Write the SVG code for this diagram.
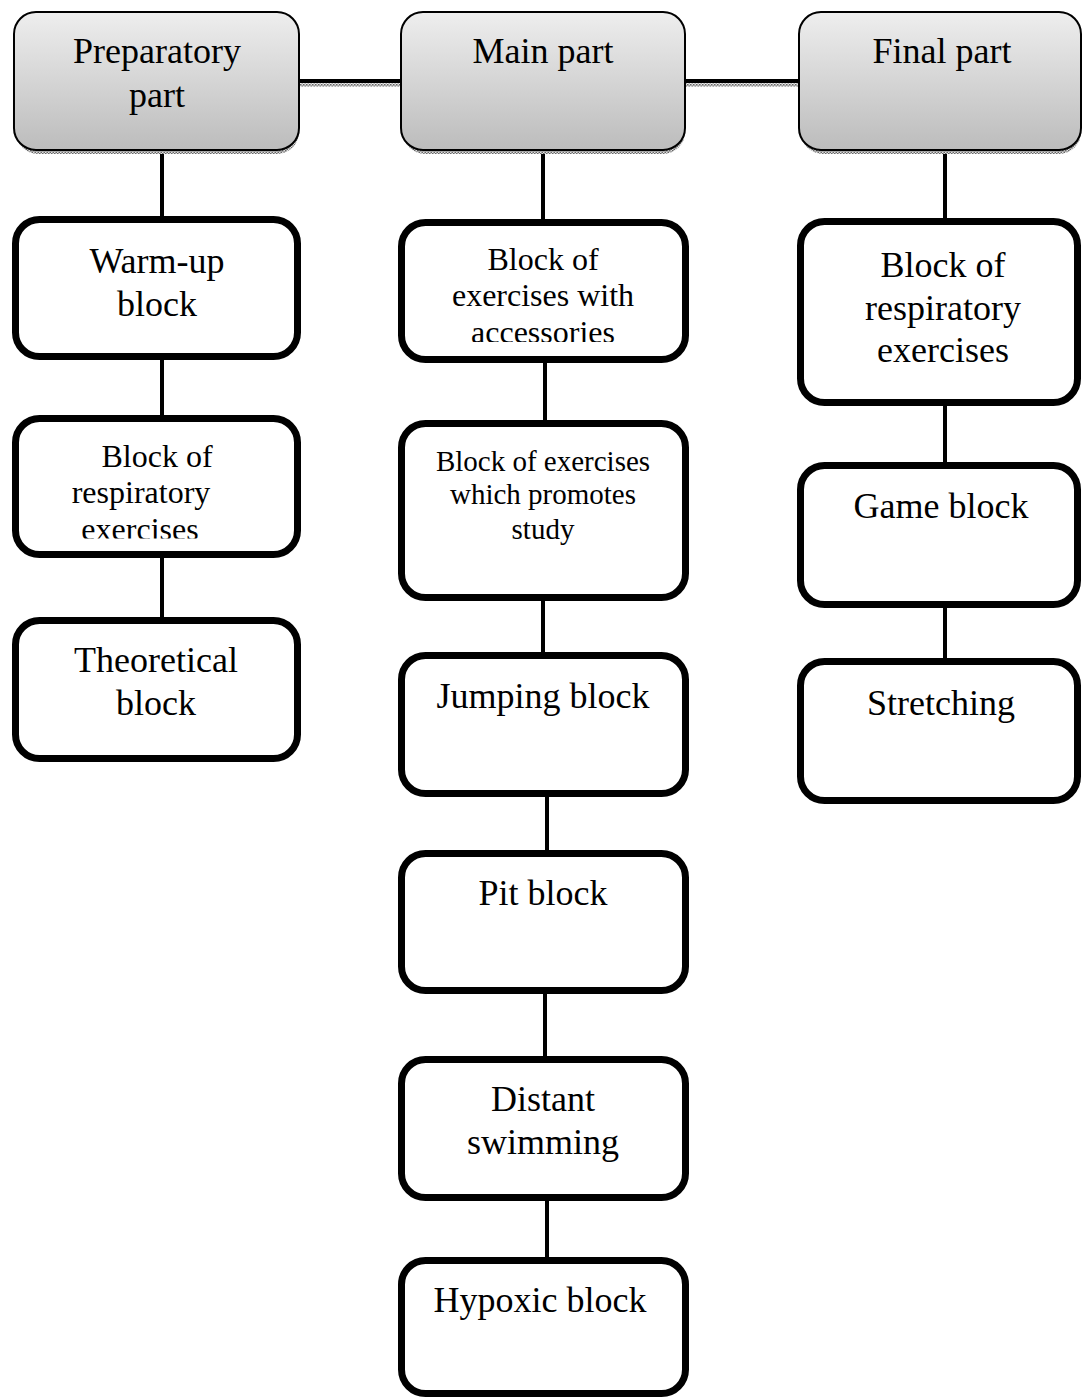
<svg xmlns="http://www.w3.org/2000/svg" width="1082" height="1398" viewBox="0 0 1082 1398">
<style>
.hdr{fill:url(#hg);stroke:#000;stroke-width:2}
.shd{fill:url(#chk)}
.box{fill:#fff;stroke:#000;stroke-width:7}
.con{stroke:#000;stroke-width:4;fill:none}
.consh{stroke:url(#chk);stroke-width:3;fill:none}
text{font-family:"Liberation Serif","Times New Roman",serif;fill:#000;text-anchor:middle}
.t36{font-size:36px}
.t32{font-size:32px}
.t29{font-size:29px}
</style>
<defs>
<linearGradient id="hg" x1="0" y1="0" x2="0" y2="1">
<stop offset="0" stop-color="#eeeeee"/>
<stop offset="1" stop-color="#bcbcbc"/>
</linearGradient>
<pattern id="chk" width="3" height="3" patternUnits="userSpaceOnUse">
<rect width="3" height="3" fill="#e0e0e0"/>
<rect width="1.5" height="1.5" fill="#666"/>
<rect x="1.5" y="1.5" width="1.5" height="1.5" fill="#666"/>
</pattern>
<clipPath id="clipL"><rect x="0" y="400" width="320" height="138.5"/></clipPath>
<clipPath id="clipM"><rect x="390" y="220" width="310" height="122"/></clipPath>
</defs>

<g id="connectors">
<line class="consh" x1="299" y1="85" x2="401" y2="85"/>
<line class="consh" x1="685" y1="85" x2="799" y2="85"/>
<line class="con" x1="299" y1="81" x2="401" y2="81"/>
<line class="con" x1="685" y1="81" x2="799" y2="81"/>
<line class="con" x1="162" y1="150" x2="162" y2="218"/>
<line class="con" x1="162" y1="358" x2="162" y2="417"/>
<line class="con" x1="162" y1="556" x2="162" y2="619"/>
<line class="con" x1="543" y1="150" x2="543" y2="221"/>
<line class="con" x1="545" y1="361" x2="545" y2="422"/>
<line class="con" x1="543" y1="599" x2="543" y2="654"/>
<line class="con" x1="547" y1="795" x2="547" y2="852"/>
<line class="con" x1="545" y1="992" x2="545" y2="1058"/>
<line class="con" x1="547" y1="1199" x2="547" y2="1259"/>
<line class="con" x1="945" y1="150" x2="945" y2="220"/>
<line class="con" x1="945" y1="404" x2="945" y2="464"/>
<line class="con" x1="945" y1="606" x2="945" y2="660"/>
</g>

<g id="preparatory">
<rect class="shd" x="16" y="16" width="283" height="138" rx="22"/>
<rect class="hdr" x="14" y="12" width="285" height="138" rx="22"/>
<text class="t36" x="157" y="63">Preparatory</text>
<text class="t36" x="157" y="107">part</text>
</g>
<g id="main">
<rect class="shd" x="403" y="16" width="282" height="138" rx="22"/>
<rect class="hdr" x="401" y="12" width="284" height="138" rx="22"/>
<text class="t36" x="543" y="63">Main part</text>
</g>
<g id="final">
<rect class="shd" x="801" y="16" width="280" height="138" rx="22"/>
<rect class="hdr" x="799" y="12" width="282" height="138" rx="22"/>
<text class="t36" x="942" y="63">Final part</text>
</g>

<g id="warmup">
<rect class="box" x="15.5" y="219.5" width="282" height="137" rx="24"/>
<text class="t36" x="157" y="273">Warm-up</text>
<text class="t36" x="157" y="316">block</text>
</g>
<g id="resp-left">
<rect class="box" x="15.5" y="418.5" width="282" height="136" rx="24"/>
<g clip-path="url(#clipL)">
<text class="t32" x="157" y="467">Block of</text>
<text class="t32" x="141" y="503">respiratory</text>
<text class="t32" x="140" y="540">exercises</text>
</g>
</g>
<g id="theoretical">
<rect class="box" x="15.5" y="620.5" width="282" height="138" rx="24"/>
<text class="t36" x="156" y="672">Theoretical</text>
<text class="t36" x="156" y="715">block</text>
</g>

<g id="accessories">
<rect class="box" x="401.5" y="222.5" width="284" height="137" rx="24"/>
<g clip-path="url(#clipM)">
<text class="t32" x="543" y="270">Block of</text>
<text class="t32" x="543" y="306">exercises with</text>
<text class="t32" x="543" y="343">accessories</text>
</g>
</g>
<g id="promotes">
<rect class="box" x="401.5" y="423.5" width="284" height="174" rx="24"/>
<text class="t29" x="543" y="471">Block of exercises</text>
<text class="t29" x="543" y="504">which promotes</text>
<text class="t29" x="543" y="539">study</text>
</g>
<g id="jumping">
<rect class="box" x="401.5" y="655.5" width="284" height="138" rx="24"/>
<text class="t36" x="543" y="708">Jumping block</text>
</g>
<g id="pit">
<rect class="box" x="401.5" y="853.5" width="284" height="137" rx="24"/>
<text class="t36" x="543" y="905">Pit block</text>
</g>
<g id="distant">
<rect class="box" x="401.5" y="1059.5" width="284" height="138" rx="24"/>
<text class="t36" x="543" y="1111">Distant</text>
<text class="t36" x="543" y="1154">swimming</text>
</g>
<g id="hypoxic">
<rect class="box" x="401.5" y="1260.5" width="284" height="133" rx="24"/>
<text class="t36" x="540" y="1312">Hypoxic block</text>
</g>

<g id="resp-final">
<rect class="box" x="800.5" y="221.5" width="277" height="181" rx="24"/>
<text class="t36" x="943" y="277">Block of</text>
<text class="t36" x="943" y="320">respiratory</text>
<text class="t36" x="943" y="362">exercises</text>
</g>
<g id="game">
<rect class="box" x="800.5" y="465.5" width="277" height="139" rx="24"/>
<text class="t36" x="941" y="518">Game block</text>
</g>
<g id="stretching">
<rect class="box" x="800.5" y="661.5" width="277" height="139" rx="24"/>
<text class="t36" x="941" y="715">Stretching</text>
</g>
</svg>
